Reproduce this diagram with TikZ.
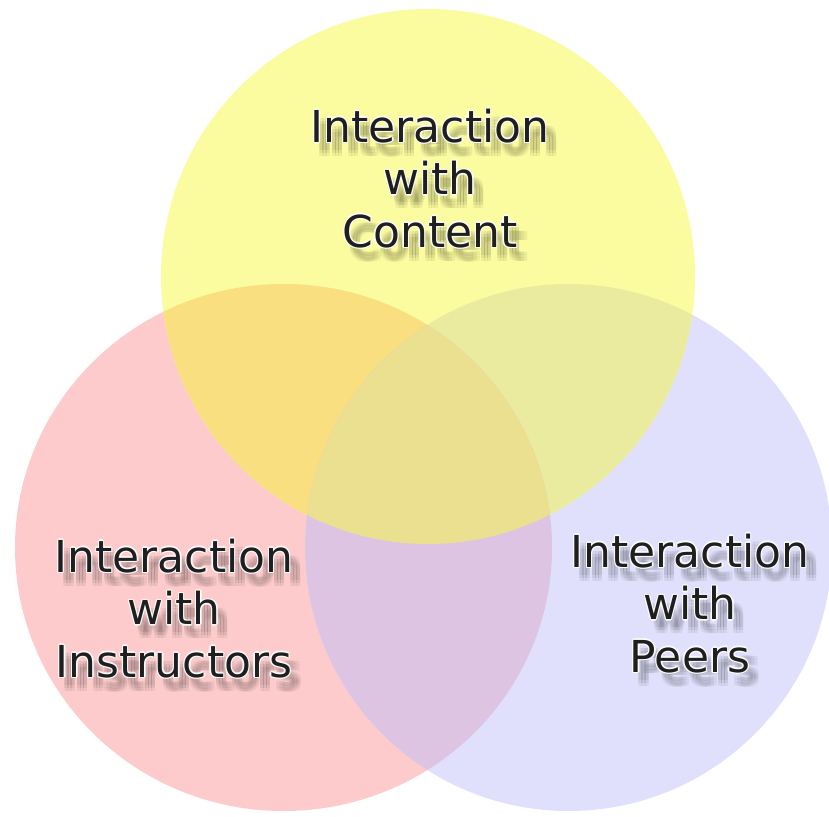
\documentclass[tikz,border=0pt]{standalone}
\usepackage{fontspec}
\setmainfont{DejaVu Sans}
\definecolor{cY}{HTML}{FBFB9F}
\definecolor{cP}{HTML}{FDCBCB}
\definecolor{cB}{HTML}{E0E0FC}
\definecolor{cYP}{HTML}{F9DF80}
\definecolor{cYB}{HTML}{EBEBA0}
\definecolor{cPB}{HTML}{DCC4E2}
\definecolor{cC}{HTML}{EBE08F}
\newcommand\vennlabel[3]{%
  \foreach \dx/\dy [count=\k] in {5/8,8/8,11/8,5/11,8/11,11/11,5/14,8/14,11/14}
    \node[lbl, text=black, opacity=0.05, xshift=\dx pt, yshift=-\dy pt] (#1-s\k) at (#2) {#3};
  \foreach \dx/\dy [count=\k] in {-1.3/0,1.3/0,0/-1.3,0/1.3,-1/-1,1/-1,-1/1,1/1}
    \node[lbl, text=white, opacity=0.7, xshift=\dx pt, yshift=-\dy pt] (#1-h\k) at (#2) {#3};
  \node[lbl, text=black!88] (#1) at (#2) {#3};
}
\begin{document}
\begin{tikzpicture}[x=1pt,y=-1pt,
  lbl/.style={font=\fontsize{44}{52.5}\selectfont, align=center, anchor=north, inner sep=0pt}]
\useasboundingbox (0,0) rectangle (829,816);
\fill[white] (0,0) rectangle (829,816);
\def\Ypath{(428,276.5) ellipse [x radius=267, y radius=267.5]}
\def\Ppath{(283.5,547.5) ellipse [x radius=268.5, y radius=263.5]}
\def\Bpath{(568.5,547.5) ellipse [x radius=263.5, y radius=263.5]}
\fill[cP] \Ppath;
\fill[cB] \Bpath;
\fill[cY] \Ypath;
\begin{scope}
  \clip \Ypath;
  \fill[cYP] \Ppath;
  \fill[cYB] \Bpath;
\end{scope}
\begin{scope}
  \clip \Ppath;
  \fill[cPB] \Bpath;
\end{scope}
\begin{scope}
  \clip \Ypath;
  \clip \Ppath;
  \fill[cC] \Bpath;
\end{scope}
\vennlabel{content}{430,108.6}{Interaction\\with\\Content}
\vennlabel{instr}{174,538.6}{Interaction\\with\\Instructors}
\vennlabel{peers}{690,533.6}{Interaction\\with\\Peers}
\end{tikzpicture}
\end{document}
